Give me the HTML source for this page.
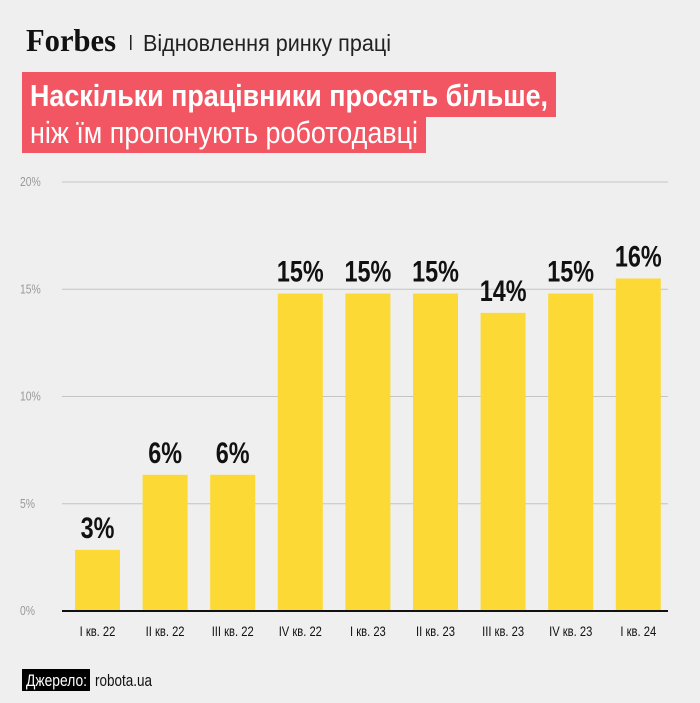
<!DOCTYPE html>
<html><head><meta charset="utf-8">
<style>
html,body{margin:0;padding:0;background:#efefef;}
svg{display:block;}
text{font-family:"Liberation Sans",sans-serif;}
</style></head>
<body>
<svg id="chart" width="700" height="703" viewBox="0 0 700 703" xmlns="http://www.w3.org/2000/svg">
<rect width="700" height="703" fill="#efefef"/>
<text x="26" y="51" font-weight="bold" font-size="32" fill="#111" textLength="90" lengthAdjust="spacingAndGlyphs" style="font-family:'Liberation Serif',serif">Forbes</text>
<rect x="130" y="35" width="1.5" height="15" fill="#222"/>
<text x="143" y="51" font-size="23" fill="#222" textLength="248" lengthAdjust="spacingAndGlyphs">Відновлення ринку праці</text>
<rect x="22" y="72" width="534" height="45" fill="#f25662"/>
<rect x="22" y="116" width="404" height="37" fill="#f25662"/>
<text x="30" y="106" font-size="31" font-weight="bold" fill="#fff" textLength="518" lengthAdjust="spacingAndGlyphs">Наскільки працівники просять більше,</text>
<text x="30" y="143" font-size="31" fill="#fff" textLength="388" lengthAdjust="spacingAndGlyphs">ніж їм пропонують роботодавці</text>
<g id="grid"></g>
<g id="bars"></g>
<rect x="22" y="669" width="68" height="22" fill="#000"/>
<text x="26" y="686" font-size="17" fill="#fff" textLength="61" lengthAdjust="spacingAndGlyphs">Джерело:</text>
<text x="95" y="686" font-size="17" fill="#111" textLength="57" lengthAdjust="spacingAndGlyphs">robota.ua</text>
</svg>
<script>
const categories = ["I кв. 22","II кв. 22","III кв. 22","IV кв. 22","I кв. 23","II кв. 23","III кв. 23","IV кв. 23","I кв. 24"];
const values = [2.85, 6.35, 6.35, 14.8, 14.8, 14.8, 13.9, 14.8, 15.5];
const valueLabels = ["3%","6%","6%","15%","15%","15%","14%","15%","16%"];
const yTicks = [0,5,10,15,20];
const yTickLabels = ["0%","5%","10%","15%","20%"];

const NS = "http://www.w3.org/2000/svg";
const y0 = 611, yTop = 182, yMax = 20;
const xLeft = 62, xRight = 668;
const firstCenter = 97.5, step = 67.6, barW = 45;
const yScale = v => y0 - (v / yMax) * (y0 - yTop);
const xScale = i => firstCenter + i * step;
function mk(tag, attrs, parent){ const e = document.createElementNS(NS, tag); for (const k in attrs) e.setAttribute(k, attrs[k]); parent.appendChild(e); return e; }
function squeeze(t, f){ const w = t.getComputedTextLength(); t.setAttribute('textLength', (w * f).toFixed(1)); t.setAttribute('lengthAdjust', 'spacingAndGlyphs'); }
const grid = document.getElementById('grid');
const bars = document.getElementById('bars');
yTicks.forEach((t, i) => {
  const y = yScale(t);
  const l = mk('line', {x1: xLeft, x2: xRight, y1: y, y2: y, stroke: t === 0 ? '#111' : '#c4c4c4', 'stroke-width': t === 0 ? 2 : 1}, grid);
  
  
  const tx = mk('text', {x: 20, y: y + 4, 'font-size': 13, fill: '#999'}, grid);
  tx.textContent = yTickLabels[i];
  
  
  squeeze(tx, 0.8);
});
categories.forEach((c, i) => {
  const cx = xScale(i), y = yScale(values[i]);
  const r = mk('rect', {x: cx - barW / 2, y: y, width: barW, height: y0 - y, fill: '#fdd935'}, bars);
  
  
  const v = mk('text', {x: cx, y: y - 12, 'text-anchor': 'middle', 'font-size': 30, 'font-weight': 'bold', fill: '#111'}, bars);
  v.textContent = valueLabels[i];
  
  
  squeeze(v, 0.78);
  const lb = mk('text', {x: cx, y: 636, 'text-anchor': 'middle', 'font-size': 14, fill: '#111'}, bars);
  lb.textContent = c;
  
  
  squeeze(lb, 0.8);
});
const base = mk('line', {x1: xLeft, x2: xRight, y1: y0, y2: y0, stroke: '#111', 'stroke-width': 2}, bars);


</script>
</body></html>
